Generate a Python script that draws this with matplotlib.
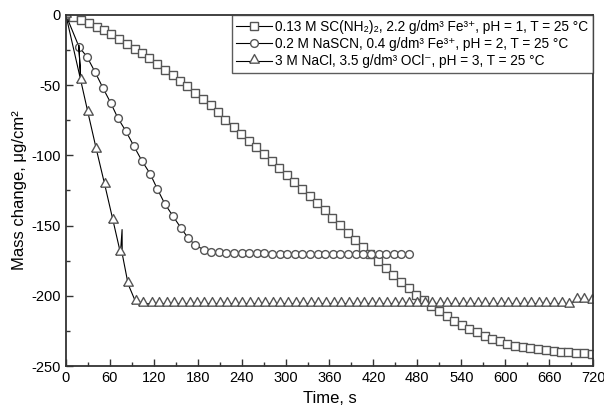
import numpy as np
import matplotlib
matplotlib.use("Agg")
import matplotlib.pyplot as plt
from matplotlib.ticker import MultipleLocator

plt.rcParams['font.family'] = ['Liberation Sans', 'DejaVu Sans']
plt.rcParams['axes.unicode_minus'] = False

# 0.13 M thiourea series (squares)
sq_t = [0, 10, 21, 31, 42, 52, 62, 73, 83, 94, 104, 114, 125, 135, 146, 156, 166, 177, 187, 198,
        208, 218, 229, 239, 250, 260, 270, 281, 291, 302, 312, 322, 333, 343, 354, 364, 374, 385,
        395, 406, 416, 426, 437, 447, 458, 468, 478, 489, 499, 510, 520, 530, 541, 551, 562, 572,
        582, 593, 603, 614, 624, 634, 645, 655, 666, 676, 686, 697, 707, 718]
sq_v = [0, -1.5, -4, -6, -8.5, -11, -14, -17, -20.5, -24, -27.5, -31, -35, -39, -43, -47, -51,
        -55.5, -60, -64.5, -69.5, -74.5, -79.5, -84.5, -89.5, -94, -99, -104, -109, -114, -119,
        -124, -129, -134, -139, -144.5, -149.5, -155, -160, -165, -170, -175, -180, -185, -190,
        -194.5, -199, -203, -207, -210.5, -214, -217.5, -220.5, -223.5, -226, -228.5, -230.5,
        -232.3, -234, -235.4, -236.5, -237.4, -238.1, -238.7, -239.2, -239.6, -240, -240.3,
        -240.6, -241]

# 0.2 M NaSCN series (circles)
ci_t = [0, 18, 29, 40, 51, 61, 71, 82, 93, 104, 115, 125, 135, 146, 157, 167, 177, 188, 198,
        209, 219, 229, 240, 250, 261, 271, 281, 292, 302, 313, 323, 333, 344, 354, 365, 375,
        385, 396, 406, 417, 427, 437, 448, 458, 468]
ci_v = [0, -22.8, -30, -40.8, -52.4, -62.4, -73.4, -82.8, -93.5, -104, -113, -124, -134.3, -143,
        -151.5, -158.8, -164, -167, -168.5, -169, -169.2, -169.4, -169.5, -169.6, -169.7, -169.8,
        -169.9, -170, -170, -170.1, -170.1, -170.2, -170.2, -170.3, -170.3, -170.3, -170.4,
        -170.4, -170.4, -170.5, -170.5, -170.5, -170.5, -170.5, -170.5]

# 3 M NaCl series (triangles), includes two glitch points without symbols
tri_t = [0, 20.5, 17.7, 20.5, 30.4, 41.8, 53.2, 64.5, 74.6, 76.8, 77, 85, 95.5,
         106, 117, 127, 138, 148, 158, 169, 179, 189, 200, 210, 220, 231, 241, 252, 262, 272,
         283, 293, 303, 314, 324, 335, 345, 355, 366, 376, 386, 397, 407, 418, 428, 438, 449,
         459, 469, 480, 490, 500, 511, 521, 532, 542, 552, 563, 573, 583, 594, 604, 615, 625,
         635, 646, 656, 666, 677, 687, 698, 708, 718]
tri_v = [0, -47, -21.6, -47, -70, -96, -121, -146.5, -169.5, -152.8, -170, -191.5, -204.5,
         -205.5, -205.5, -205.5, -205.5, -205.5, -205.5, -205.5, -205.5, -205.5, -205.5, -205.5,
         -205.5, -205.5, -205.5, -205.5, -205.5, -205.5, -205.5, -205.5, -205.5, -205.5, -205.5,
         -205.5, -205.5, -205.5, -205.5, -205.5, -205.5, -205.5, -205.5, -205.5, -205.5, -205.5,
         -205.5, -205.5, -205.5, -205.5, -205.5, -205.5, -205.5, -205.5, -205.5, -205.5, -205.5,
         -205.5, -205.5, -205.5, -205.5, -205.5, -205.5, -205.5, -205.5, -205.5, -205.5, -205.5,
         -205.5, -206.5, -203, -203, -203.5]
tri_hidden = [2, 3, 9, 10]

labels = ['0.13 M SC(NH\u2082)\u2082, 2.2 g/dm\u00b3 Fe\u00b3\u207a, pH = 1, T = 25 \u00b0C',
          '0.2 M NaSCN, 0.4 g/dm\u00b3 Fe\u00b3\u207a, pH = 2, T = 25 \u00b0C',
          '3 M NaCl, 3.5 g/dm\u00b3 OCl\u207b, pH = 3, T = 25 \u00b0C']

# triangle symbol sitting on the line (base near the data point), as in the original software
tri_marker = [(-1, -0.35), (1, -0.35), (0, 1.45), (-1, -0.35)]

fig = plt.figure(figsize=(6.04, 4.11), dpi=100)
ax = fig.add_axes([0.109, 0.109, 0.873, 0.855])

ax.plot(sq_t, sq_v, '-', color='black', lw=0.8, marker='s', ms=5.2, mfc='white',
        mec='#555555', mew=1.0, label=labels[0])
ax.plot(ci_t, ci_v, '-', color='black', lw=0.8, marker='o', ms=5.6, mfc='white',
        mec='#555555', mew=1.0, label=labels[1])
tri_marks = [i for i in range(len(tri_t)) if i not in tri_hidden]
ax.plot(tri_t, tri_v, '-', color='black', lw=0.8, marker=tri_marker, ms=10, mfc='white',
        mec='#555555', mew=1.0, markevery=tri_marks, label=labels[2])

ax.set_xlim(0, 720)
ax.set_ylim(-250, 0)
ax.xaxis.set_major_locator(MultipleLocator(60))
ax.xaxis.set_minor_locator(MultipleLocator(30))
ax.yaxis.set_major_locator(MultipleLocator(50))
ax.yaxis.set_minor_locator(MultipleLocator(25))
ax.tick_params(which='both', direction='in', top=False, right=False, labelsize=10.5,
               color='#333333')
ax.tick_params(which='major', length=5, width=1)
ax.tick_params(which='minor', length=3, width=1)
for s in ax.spines.values():
    s.set_linewidth(1.3)
    s.set_color('#333333')

ax.set_xlabel('Time, s', fontsize=12, labelpad=4)
ax.set_ylabel('Mass change, \u03bcg/cm\u00b2', fontsize=12, labelpad=3)

leg = ax.legend(loc='upper right', fontsize=9.8, frameon=True, fancybox=False,
                edgecolor='#333333', borderaxespad=0, handlelength=2.6,
                labelspacing=0.25, borderpad=0.35, handletextpad=0.25)
leg.get_frame().set_linewidth(1.0)

fig.savefig('out.png', dpi=100)
